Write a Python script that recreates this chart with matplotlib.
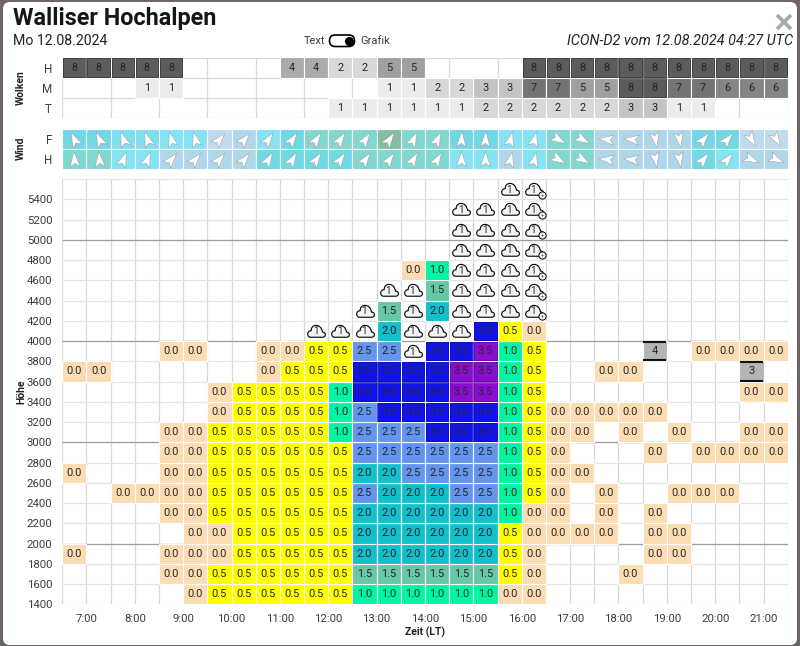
import matplotlib
matplotlib.use("Agg")
import matplotlib.pyplot as plt
from matplotlib.markers import MarkerStyle
from matplotlib.patches import FancyBboxPatch
from matplotlib.path import Path
from matplotlib.transforms import Affine2D

plt.rcParams['font.family'] = ['Roboto', 'DejaVu Sans']

# Cloud cover per half hour (0 = none)
clouds_h = [8,8,8,8,8,0,0,0,0,4,4,2,2,5,5,0,0,0,0,8,8,8,8,8,8,8,8,8,8,8]
clouds_m = [0,0,0,1,1,0,0,0,0,0,0,0,0,1,1,2,2,3,3,7,7,5,5,8,8,7,7,6,6,6]
clouds_t = [0,0,0,0,0,0,0,0,0,0,0,1,1,1,1,1,1,2,2,2,2,2,2,3,3,1,1,0,0,0]

# Wind direction (degrees clockwise from north) and speed class
wind_f_dir = [-25,-25,-20,-20,-15,-15,40,40,35,35,35,35,35,35,25,25,3,3,15,15,
              120,120,-85,-85,170,170,40,40,150,150]
wind_h_dir = [-5,-5,20,20,40,40,40,40,30,30,35,35,35,35,30,30,0,0,15,15,
              120,120,-85,-85,170,170,40,40,115,115]
wind_f_lvl = [2,2,1,1,0,0,5,4,0,2,3,3,3,6,3,3,2,2,0,0,3,3,4,4,4,4,2,2,5,5]
wind_h_lvl = [3,3,0,0,4,4,4,4,2,2,2,2,3,3,3,3,0,0,4,0,3,3,4,4,4,4,2,0,4,4]

_ = None
C = 'c'  # cloud
S = 's'  # cloud with thunderstorm
row_1400 = [_,_,_,_,_,0,.5,.5,.5,.5,.5,.5,1,1,1,1,1,1,0,0,_,_,_,_,_,_,_,_,_,_]
row_1600 = [_,_,_,_,0,0,.5,.5,.5,.5,.5,.5,1.5,1.5,1.5,1.5,1.5,1.5,.5,0,_,_,_,0,_,_,_,_,_,_]
row_1800 = [0,_,_,_,0,0,0,.5,.5,.5,.5,.5,2,2,2,2,2,2,.5,0,_,_,_,_,0,0,_,_,_,_]
row_2000 = [_,_,_,_,_,0,0,.5,.5,.5,.5,.5,2,2,2,2,2,2,.5,0,0,0,0,_,0,0,_,_,_,_]
row_2200 = [_,_,_,_,0,0,.5,.5,.5,.5,.5,.5,2,2,2,2,2,2,1,0,0,_,0,_,0,_,_,_,_,_]
row_2400 = [_,_,0,0,0,0,.5,.5,.5,.5,.5,.5,2.5,2,2,2,2.5,2.5,1,.5,0,_,0,_,_,0,0,0,_,_]
row_2600 = [0,_,_,_,0,0,.5,.5,.5,.5,.5,.5,2,2,2.5,2.5,2.5,2.5,1,.5,0,0,_,_,_,_,_,_,_,_]
row_2800 = [_,_,_,_,0,0,.5,.5,.5,.5,.5,.5,2.5,2.5,2.5,2.5,2.5,2.5,1,.5,0,_,_,_,0,_,0,0,0,0]
row_3000 = [_,_,_,_,0,0,.5,.5,.5,.5,.5,1,2.5,2.5,2.5,3,3,3,1,.5,0,0,_,0,_,0,_,_,0,0]
row_3200 = [_,_,_,_,_,_,0,.5,.5,.5,.5,1,2.5,3,3,3,3,3,1,.5,0,0,0,0,0,_,_,_,_,_]
row_3400 = [_,_,_,_,_,_,0,.5,.5,.5,.5,1,3,3,3,3,3.5,3.5,1,.5,_,_,_,_,_,_,_,_,0,0]
row_3600 = [0,0,_,_,_,_,_,_,0,.5,.5,.5,3,3,3,3,3.5,3.5,1,.5,_,_,0,0,_,_,_,_,_,_]
row_3800 = [_,_,_,_,0,0,_,_,0,0,.5,.5,2.5,2.5,C,3,3,3.5,1,.5,_,_,_,_,_,_,0,0,0,0]
row_4000 = [_,_,_,_,_,_,_,_,_,_,C,C,C,2,C,C,C,3,.5,0,_,_,_,_,_,_,_,_,_,_]
row_4200 = [_,_,_,_,_,_,_,_,_,_,_,_,C,1.5,C,2,C,C,C,S,_,_,_,_,_,_,_,_,_,_]
row_4400 = [_,_,_,_,_,_,_,_,_,_,_,_,_,C,C,1.5,C,C,C,S,_,_,_,_,_,_,_,_,_,_]
row_4600 = [_,_,_,_,_,_,_,_,_,_,_,_,_,_,0,1,C,C,C,S,_,_,_,_,_,_,_,_,_,_]
row_4800 = [_,_,_,_,_,_,_,_,_,_,_,_,_,_,_,_,C,C,C,S,_,_,_,_,_,_,_,_,_,_]
row_5000 = [_,_,_,_,_,_,_,_,_,_,_,_,_,_,_,_,C,C,C,S,_,_,_,_,_,_,_,_,_,_]
row_5200 = [_,_,_,_,_,_,_,_,_,_,_,_,_,_,_,_,C,C,C,S,_,_,_,_,_,_,_,_,_,_]
row_5400 = [_,_,_,_,_,_,_,_,_,_,_,_,_,_,_,_,_,_,C,S,_,_,_,_,_,_,_,_,_,_]

heights = list(range(1400, 5600, 200))
rows = [row_1400, row_1600, row_1800, row_2000, row_2200, row_2400, row_2600,
        row_2800, row_3000, row_3200, row_3400, row_3600, row_3800, row_4000,
        row_4200, row_4400, row_4600, row_4800, row_5000, row_5200, row_5400]

# Grey cloud base cells
grey_cols = [24, 28]
grey_rows = [3800, 3600]
grey_vals = [4, 3]

hours = list(range(7, 22))
slots = [6.75 + 0.5 * i for i in range(30)]

cloud_colors = {1: '#ececec', 2: '#d8d8d8', 3: '#c4c4c4', 4: '#ababab',
                5: '#a0a0a0', 6: '#858585', 7: '#747474', 8: '#5c5c5c'}
wind_colors = {0: '#85e3f6', 1: '#7ce0ee', 2: '#70d9e5', 3: '#80d8d0',
               4: '#aed7ec', 5: '#bfdcee', 6: '#85bda0'}
climb_colors = {0: '#fcdcb2', .5: '#ffff00', 1: '#00f5a0', 1.5: '#66c8a8',
                2: '#12c0cc', 2.5: '#6495ed', 3: '#1212ee', 3.5: '#8a0ccf'}
TXT = '#262626'
LABEL = '#3c3c3c'


def px_axes(fig, left, top, right, bottom):
    return fig.add_axes([left / 800, 1 - bottom / 646, (right - left) / 800, (bottom - top) / 646])


def setup_grid(ax):
    ax.set_xlim(6.5, 21.5)
    ax.set_xticks([h + 0.5 for h in hours[:-1]] + [6.5, 21.5], minor=True)
    ax.tick_params(which='both', length=0)
    for s in ax.spines.values():
        s.set_visible(False)
    ax.set_axisbelow(True)
    ax.grid(True, which='both', axis='x', color='#d8d8d8', linewidth=0.9)
    ax.grid(True, which='major', axis='y', color='#e4e4e4', linewidth=0.9)


def cell(ax, x, y, h, color, edge=None):
    ax.bar(x, h, width=0.5, bottom=y, color=color, edgecolor='white', linewidth=0.8, align='center', zorder=2)
    if edge:
        ax.bar(x, h * 0.92, width=0.465, bottom=y + h * 0.04, fill=False, edgecolor=edge, linewidth=0.5, zorder=3)


fig = plt.figure(figsize=(8, 6.46), dpi=100, facecolor='#6f6466')

# Modal background and header controls
bg = fig.add_axes([0, 0, 1, 1])
bg.set_xlim(0, 800)
bg.set_ylim(646, 0)
bg.axis('off')
bg.add_patch(FancyBboxPatch((3, 2), 794, 643, boxstyle='round,pad=0,rounding_size=7', fc='white', ec='none'))
bg.add_patch(FancyBboxPatch((329.5, 35), 25, 11.5, boxstyle='round,pad=0,rounding_size=5.7', fc='white', ec='black', lw=1.2))
bg.plot([349], [40.8], 'o', color='black', ms=5.5)
bg.plot([777, 791], [15, 29], color='#a9a9a9', lw=2.6, solid_capstyle='butt')
bg.plot([777, 791], [29, 15], color='#a9a9a9', lw=2.6, solid_capstyle='butt')

fig.text(13 / 800, 1 - 19 / 646, 'Walliser Hochalpen', fontsize=16.8, fontweight='bold', color='#151515', va='center')
fig.text(13 / 800, 1 - 41 / 646, 'Mo 12.08.2024', fontsize=10.2, color='#222222', va='center')
fig.text(325 / 800, 1 - 41 / 646, 'Text', fontsize=8, color=LABEL, va='center', ha='right')
fig.text(360 / 800, 1 - 41 / 646, 'Grafik', fontsize=8, color=LABEL, va='center')
fig.text(793 / 800, 1 - 41 / 646, 'ICON-D2 vom 12.08.2024 04:27 UTC', fontsize=10.4, style='italic',
         color='#222222', va='center', ha='right')
fig.text(21 / 800, 1 - 88 / 646, 'Wolken', fontsize=7.5, fontweight='bold', color='#222222', rotation=90, va='center', ha='center')
fig.text(21 / 800, 1 - 148 / 646, 'Wind', fontsize=7.5, fontweight='bold', color='#222222', rotation=90, va='center', ha='center')
fig.text(21 / 800, 1 - 392 / 646, 'Höhe', fontsize=7.5, fontweight='bold', color='#222222', rotation=90, va='center', ha='center')
fig.text(425 / 800, 1 - 632 / 646, 'Zeit (LT)', fontsize=7.5, fontweight='bold', color='#222222', va='center', ha='center')

# Cloud table
ax1 = px_axes(fig, 62.3, 57.5, 787.7, 118)
setup_grid(ax1)
ax1.set_ylim(0, 3)
ax1.set_yticks([0.5, 1.5, 2.5], ['T', 'M', 'H'], fontsize=8.4, color=LABEL)
ax1.set_yticks([0, 1, 2, 3], minor=True)
ax1.grid(True, which='minor', axis='y', color='#d8d8d8', linewidth=0.9)
ax1.grid(False, which='major', axis='y')
ax1.tick_params(axis='y', pad=7.5)
ax1.set_xticks([])
for y, vals in zip([2, 1, 0], [clouds_h, clouds_m, clouds_t]):
    for x, v in zip(slots, vals):
        if v:
            cell(ax1, x, y, 1, cloud_colors[v], '#333333' if v == 8 else None)
            ax1.text(x, y + 0.5, str(v), ha='center', va='center', fontsize=7.8, color=TXT, zorder=4)

# Wind table
dart = Path([(0, 1), (0.62, -0.9), (0, -0.48), (-0.62, -0.9), (0, 1)],
            [Path.MOVETO, Path.LINETO, Path.LINETO, Path.LINETO, Path.CLOSEPOLY])
ax2 = px_axes(fig, 62.3, 128.5, 787.7, 169)
setup_grid(ax2)
ax2.set_ylim(0, 2)
ax2.set_yticks([0.5, 1.5], ['H', 'F'], fontsize=8.4, color=LABEL)
ax2.tick_params(axis='y', pad=7.5)
ax2.set_xticks([])
for y, dirs, lvls in zip([1, 0], [wind_f_dir, wind_h_dir], [wind_f_lvl, wind_h_lvl]):
    for x, d, l in zip(slots, dirs, lvls):
        cell(ax2, x, y, 1, wind_colors[l])
        ax2.plot([x], [y + 0.5], ls='', marker=MarkerStyle(dart, transform=Affine2D().rotate_deg(-d)),
                 ms=11.6, mfc='white', mec='#9a9a9a', mew=0.35, zorder=4)

# Height / climb grid
cloud_icon = Path([(-0.6, -0.58), (0.62, -0.58),
                   (1.0, -0.58), (1.0, -0.04), (0.6, -0.06),
                   (0.56, 0.34), (0.3, 0.62), (-0.04, 0.62),
                   (-0.36, 0.62), (-0.56, 0.38), (-0.54, 0.08),
                   (-1.0, 0.08), (-1.0, -0.58), (-0.6, -0.58)],
                  [Path.MOVETO, Path.LINETO] + [Path.CURVE4] * 12)
bolt = Path([(0.25, 1), (-0.5, -0.1), (0.05, -0.1), (-0.25, -1), (0.5, 0.2), (-0.05, 0.2), (0.25, 1)],
            [Path.MOVETO] + [Path.LINETO] * 5 + [Path.CLOSEPOLY])

ax3 = px_axes(fig, 62.3, 179, 787.7, 604.3)
setup_grid(ax3)
ax3.set_ylim(1400, 5600)
ax3.set_xticks(hours, [f'{h}:00' for h in hours], fontsize=8.2, color=LABEL)
ax3.set_yticks(heights + [5600], [str(h) for h in heights] + [''], fontsize=8.2, color=LABEL)
ax3.tick_params(axis='x', pad=7)
ax3.tick_params(axis='y', pad=7.2)
ax3.hlines([2000, 3000, 4000, 5000], 6.5, 21.5, color='#a0a0a0', linewidth=0.9, zorder=1)

for y, vals in zip(heights, rows):
    for x, v in zip(slots, vals):
        if v is None:
            continue
        yc = y + 100
        if v in (C, S):
            ax3.plot([x], [yc], ls='', marker=cloud_icon, ms=14.2, mfc='#f4f4f4', mec='black', mew=0.8, zorder=4)
            ax3.text(x - 0.01, yc - 5, '1', ha='center', va='center', fontsize=7.2, color=TXT, zorder=5)
            if v == S:
                ax3.plot([x + 0.16], [yc - 55], ls='', marker='o', ms=5.2, mfc='white', mec='black', mew=0.7, zorder=6)
                ax3.plot([x + 0.16], [yc - 55], ls='', marker=bolt, ms=3.8, mfc='#b01020', mec='none', zorder=7)
        else:
            edge = {3: '#0808a0', 3.5: '#5a0890'}.get(v)
            cell(ax3, x, y, 200, climb_colors[v], edge)
            ax3.text(x, yc, f'{v:.1f}', ha='center', va='center', fontsize=7.9, color=TXT, zorder=5)

for c, r, v in zip(grey_cols, grey_rows, grey_vals):
    x = slots[c]
    cell(ax3, x, r, 200, '#b4b4b4')
    ax3.hlines([r + 8, r + 192], x - 0.24, x + 0.24, color='#111111', linewidth=1.5, zorder=4)
    ax3.text(x, r + 100, str(v), ha='center', va='center', fontsize=7.9, color=TXT, zorder=5)

plt.savefig("out.png", dpi=100, facecolor=fig.get_facecolor())
